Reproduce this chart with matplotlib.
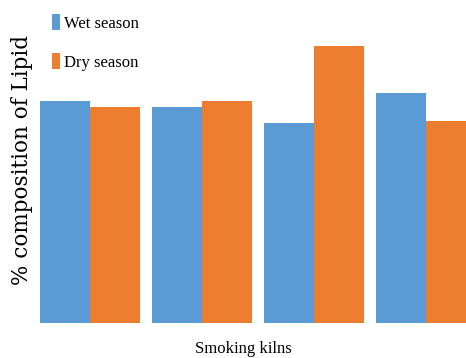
import matplotlib
matplotlib.use("Agg")
import matplotlib.pyplot as plt
import numpy as np

kilns = ["Kiln 1", "Kiln 2", "Kiln 3", "Kiln 4"]
wet_season = [22.2, 21.6, 20.0, 23.0]
dry_season = [21.6, 22.2, 27.7, 20.2]
series_names = ["Wet season", "Dry season"]

blue = "#5B9BD5"
orange = "#ED7D31"

fig = plt.figure(figsize=(4.66, 3.58), dpi=100)
ax = fig.add_axes([0, 35/358, 1, 323/358])

x = np.arange(len(kilns))
w = 0.445
b1 = ax.bar(x - w/2, wet_season, width=w, color=blue, label=series_names[0])
b2 = ax.bar(x + w/2, dry_season, width=w, color=orange, label=series_names[1])

ax.set_xlim((0 - 90) / 112, (466 - 90) / 112)
ax.set_ylim(0, 32.3)
ax.axis("off")

serif = ["Liberation Serif", "DejaVu Serif"]
fig.text(243/466, 1 - 349/358, "Smoking kilns", ha="center", va="center",
         fontsize=12, family=serif)
fig.text(22/466, 1 - 160/358, "% composition of Lipid", ha="center", va="center",
         rotation=90, fontsize=15.5, family=["DejaVu Serif"])

fig.legend(handles=[b1, b2], labels=series_names, loc="upper left",
           bbox_to_anchor=(37/466, 1 + 1/358), frameon=False,
           prop={"family": serif, "size": 12}, handlelength=0.5,
           handleheight=1.1, handletextpad=0.2, labelspacing=1.3)

fig.savefig("out.png", dpi=100)
